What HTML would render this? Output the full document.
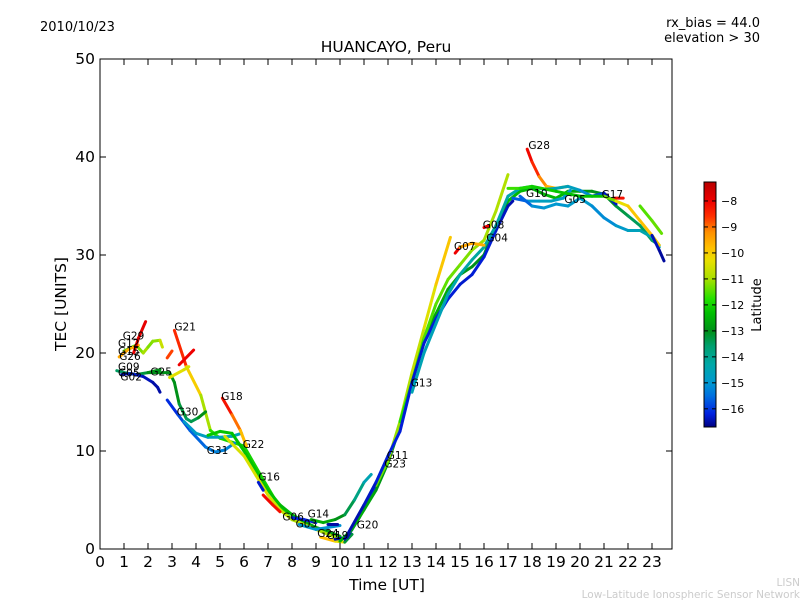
<!DOCTYPE html>
<html><head><meta charset="utf-8"><style>
body{margin:0;background:#fff}
svg text{font-family:"DejaVu Sans","Liberation Sans",sans-serif}
</style></head><body>
<svg id="c" width="800" height="600" xmlns="http://www.w3.org/2000/svg">
<defs>
<linearGradient id="cbg" x1="0" y1="1" x2="0" y2="0"></linearGradient>
<clipPath id="clip"><rect x="100" y="59" width="572" height="490"/></clipPath>
</defs>
<rect x="0" y="0" width="800" height="600" fill="#fff"/>
<text x="40" y="31" font-size="13">2010/10/23</text>
<text x="760" y="27" font-size="13" text-anchor="end">rx_bias = 44.0</text>
<text x="760" y="42" font-size="13" text-anchor="end">elevation &gt; 30</text>
<text x="386" y="52" font-size="15.5" text-anchor="middle">HUANCAYO, Peru</text>
<g id="tracks" clip-path="url(#clip)"></g>
<g id="labels"></g>
<rect x="100" y="59" width="572" height="490" fill="none" stroke="#000" stroke-width="1"/>
<g id="axes"></g>
<text x="387" y="590" font-size="15.5" text-anchor="middle">Time [UT]</text>
<text x="66" y="304" font-size="15.5" text-anchor="middle" transform="rotate(-90 66 304)">TEC [UNITS]</text>
<rect x="704" y="182" width="12" height="245" fill="url(#cbg)" stroke="#000" stroke-width="1"/>
<g id="cbticks"></g>
<text x="761" y="305" font-size="13" text-anchor="middle" transform="rotate(-90 761 305)">Latitude</text>
<text x="800" y="586" font-size="10.5" fill="#ccc" text-anchor="end">LISN</text>
<text x="800" y="598" font-size="10.5" fill="#ccc" text-anchor="end">Low-Latitude Ionospheric Sensor Network</text>
</svg>
<script>
const xTicks=[0,1,2,3,4,5,6,7,8,9,10,11,12,13,14,15,16,17,18,19,20,21,22,23];
const yTicks=[0,10,20,30,40,50];
const cbTicks=[-8,-9,-10,-11,-12,-13,-14,-15,-16];
const latMin=-16.7, latMax=-7.27;
const trackNames=["G21","G29","G12","G12b","G26","G02","G25","G25y","G21r","G21r2","G30","G31","G18","G22","G22y","G16r","G16","G06","G03","G14","G14b","G24","G20","G13","G07","G07b","G13b","G10","G28","G17","G05","G04","G23y","G23g","Gend","G08","G07r","G07o"];
const trackT=[
[3.1,3.6,4.2,4.6,5.0,6.0,6.7,7.5,8.0],
[1.0,1.5,1.8,2.0,2.2,2.5,2.6],
[0.8,1.2,1.6],
[1.4,1.6,1.9],
[0.7,1.0,1.5,2.0,2.5],
[0.9,1.3,1.8,2.2,2.4,2.5],
[2.0,2.5,2.9,3.1,3.3,3.6,3.8,4.1,4.4],
[2.9,3.5,3.7],
[2.8,3.0],
[3.3,3.9],
[2.8,3.25,3.75,4.4,4.8,5.2,5.6],
[3.5,4.0,4.5,5.0,5.5,5.9],
[5.1,5.5,5.85,6.1],
[4.5,5.0,5.5,6.0,6.5,7.0,7.5,8.0,8.5,9.0,9.5,10.0],
[5.2,6.0,6.5,7.0,7.5,8.0,9.0,10.0],
[6.8,7.2,7.5],
[6.6,6.8],
[8.0,8.5,9.0],
[8.3,9.0,9.5,10.0],
[8.8,9.3,9.8,10.2,10.6,11.0,11.3],
[9.5,9.9],
[9.2,9.8,10.2,10.5],
[9.8,10.3,10.8,11.3,11.8],
[10.0,10.5,11.0,11.5,12.0,12.5,13.0,13.5,14.0,14.5,15.0,15.5,16.0,16.5,17.0,17.5,18.0,18.5,19.0,19.5,20.0,20.5,21.0,21.5,22.0,22.5,23.0,23.3],
[11.5,12.0,12.5,13.0,13.5,14.0,14.6],
[12.5,13.0,13.5,14.0,14.5,15.0,15.5,16.0,16.5,17.0],
[10.2,11.0,11.5,12.0,12.5,13.0,13.5,14.0,14.5,15.0,15.5,16.0,16.5,17.0,17.2],
[17.2,17.8,18.3,18.8,19.3,19.6],
[17.8,18.0,18.3,18.6,19.0,19.5],
[21.4,21.8],
[17.5,18.0,18.5,19.0,19.5,20.0,20.5,21.0,21.5,22.0,22.5,23.0,23.3],
[13.0,13.5,14.0,14.5,15.0,15.5,16.0,16.5,17.0,17.5,18.0,18.5,19.0,19.5,20.0,20.5,21.0,21.5],
[17.0,17.5,18.0,19.0,20.0,21.0,21.5,22.0,22.5,23.0,23.3],
[22.5,23.0,23.4],
[23.0,23.3,23.5],
[16.0,16.2],
[14.8,15.0],
[15.0,15.5,16.0]];
const trackV=[
[22.3,18.6,15.7,12.1,11.3,10.5,7.5,4.2,3.0],
[20.2,20.8,20.0,20.6,21.2,21.3,20.6],
[19.6,20.4,20.8],
[20.0,21.5,23.2],
[18.2,18.0,17.8,18.0,18.3],
[17.8,17.9,17.6,17.0,16.5,16.0],
[18.0,18.0,18.0,17.0,14.8,13.3,13.0,13.4,14.0],
[17.5,18.3,18.6],
[19.5,20.2],
[18.8,20.3],
[15.2,13.7,12.1,10.4,9.9,10.1,10.8],
[13.0,11.8,11.4,11.4,11.5,11.8],
[15.4,13.7,12.1,10.5],
[11.6,12.0,11.8,10.0,8.0,6.0,4.5,3.5,2.8,2.2,1.8,1.3],
[11.5,9.5,7.5,5.5,4.0,3.0,2.0,1.0],
[5.5,4.5,3.8],
[6.8,6.0],
[3.2,3.0,2.7],
[2.5,2.0,2.2,2.4],
[3.0,2.7,3.0,3.5,5.0,6.8,7.6],
[2.5,2.5],
[1.2,0.8,0.7,1.5],
[1.0,1.2,3.2,5.5,8.0],
[0.8,2.0,4.0,6.0,8.8,12.5,17.5,21.5,24.0,26.5,28.0,28.8,30.0,33.0,35.5,36.5,36.8,36.2,35.8,36.5,36.5,36.5,36.2,35.0,34.0,33.0,31.5,31.0],
[6.5,9.0,13.0,18.0,22.5,27.0,31.8],
[13.0,17.0,21.5,25.0,27.5,29.0,30.5,31.5,34.5,38.2],
[1.0,4.5,6.8,9.5,12.0,17.0,21.0,23.5,25.5,27.0,28.0,29.8,32.5,35.0,35.5],
[35.8,35.5,35.5,35.5,35.8,36.6],
[40.8,39.5,38.0,37.0,36.8,37.0],
[35.8,35.8],
[36.0,35.0,34.8,35.2,35.0,35.8,35.0,33.8,33.0,32.5,32.5,31.8,30.8],
[16.0,20.0,23.0,26.0,28.0,29.5,30.8,33.0,36.0,36.8,37.0,36.7,36.8,37.0,36.6,36.0,36.3,35.2],
[36.8,36.8,37.0,36.5,36.0,36.0,35.5,35.0,33.5,32.0,31.0],
[35.0,33.5,32.2],
[32.0,30.5,29.4],
[32.8,33.0],
[30.2,30.8],
[30.8,31.2,31.0]];
const trackLat=[
[-7.5,-9.5,-10.5,-11.5,-12,-12,-12,-12,-12],
[-11.5,-11.5,-11,-11,-11.5,-10.8,-10.5],
[-9.5,-9.5,-9.8],
[-8,-8,-7.8],
[-13.5,-13.5,-13.5,-13,-13],
[-16.5,-16.3,-16.3,-16.5,-16.5,-16.5],
[-13,-13,-13,-13,-13,-13.5,-13.5,-13.2,-12.8],
[-10.2,-10.5,-10.5],
[-8.8,-8.6],
[-8,-8],
[-16.2,-16,-15.7,-15.5,-15.3,-15.3,-15.2],
[-15,-14.8,-14.7,-14.6,-14.6,-14.5],
[-8,-8.5,-9.5,-10],
[-12.2,-12.2,-12.3,-12.3,-12.2,-12.2,-12.3,-12.5,-12.6,-12.7,-12.7,-12.8],
[-10.5,-10.5,-10.4,-10.5,-10.6,-10.8,-11,-11],
[-8,-8.2,-8.2],
[-16.3,-16.3],
[-16.2,-16.2,-16.2],
[-15,-15,-15.1,-15.1],
[-12.5,-12.5,-12.8,-13.2,-13.5,-14.2,-14.8],
[-16.5,-16.5],
[-9.5,-10,-10.5,-16],
[-16.5,-16.5,-16.4,-16.2,-16],
[-12.5,-12.5,-12.6,-12.8,-13,-13,-13,-12.8,-12.7,-12.6,-12.8,-13,-13,-12.7,-12.5,-12.3,-12.5,-12.5,-12.4,-12.5,-12.8,-13,-13,-13.2,-13.4,-13.5,-13.5,-13.5],
[-11.5,-11.2,-11,-10.8,-10.6,-10.2,-9.6],
[-11.8,-11.8,-11.6,-11.5,-11.4,-11.3,-11.2,-11,-11,-10.8],
[-16.5,-16.4,-16.3,-16.2,-16.2,-16.3,-16.3,-16.2,-16.2,-16.3,-16.3,-16.2,-16.3,-16.4,-16.5],
[-16.3,-15,-14.8,-14.6,-14.8,-15],
[-8,-8.2,-8.8,-9.5,-9.8,-10],
[-8.2,-8.2],
[-16,-15.2,-15,-15,-15,-14.8,-15,-15.3,-15,-14.8,-14.5,-14.3,-14.3],
[-14.5,-14.5,-14.6,-14.5,-14.3,-14.2,-14.2,-14.2,-14.3,-14.5,-14.6,-14.5,-14.5,-14.6,-14.8,-15.5,-16.2,-16.5],
[-11.5,-11.8,-12,-12.2,-12.3,-12.2,-10.5,-10,-9.8,-9.8,-10],
[-11.5,-11.5,-11.3],
[-16.3,-16.5,-16.6],
[-8,-8],
[-8,-8],
[-9.4,-9.5,-9.6]];
const labelNames=["G29","G12","G15","G26","G09","G05","G02","G25","G21","G30","G18","G31","G22","G16","G06","G03","G14","G24","G19","G20","G11","G23","G13","G07","G08","G04","G28","G10","G05","G17"];
const labelT=[0.95,0.75,0.75,0.8,0.75,0.75,0.85,2.1,3.1,3.2,5.05,4.45,5.95,6.6,7.6,8.15,8.65,9.05,9.45,10.7,11.95,11.85,12.95,14.75,15.95,16.1,17.85,17.75,19.35,20.9];
const labelV=[21.4,20.6,19.8,19.3,18.2,17.6,17.2,17.7,22.3,13.6,15.2,9.7,10.3,7.0,2.9,2.2,3.2,1.2,1.0,2.1,9.2,8.3,16.6,30.5,32.7,31.4,40.8,35.9,35.3,35.8];
const x=t=>100+24*t, y=v=>549-9.8*v;
const stops=[[-16.7,"#000080"],[-16.2,"#0020e0"],[-15.5,"#0070e0"],[-15,"#0098d0"],[-14.3,"#00a8a8"],[-13.6,"#00a070"],[-13,"#009018"],[-12.3,"#00c000"],[-11.8,"#20e000"],[-11,"#a8e000"],[-10.3,"#e8e000"],[-9.8,"#ffc000"],[-9.2,"#ff9000"],[-8.6,"#ff3000"],[-8,"#ee0000"],[-7.27,"#b80000"]];
function hex(h){return [1,3,5].map(i=>parseInt(h.substr(i,2),16));}
function col(l){l=Math.max(latMin,Math.min(latMax,l));for(let i=1;i<stops.length;i++){if(l<=stops[i][0]){const a=stops[i-1],b=stops[i];const f=(l-a[0])/(b[0]-a[0]);const A=hex(a[1]),B=hex(b[1]);return "rgb("+A.map((v,k)=>Math.round(v+(B[k]-v)*f)).join(",")+")";}}return stops[stops.length-1][1];}
const NS="http://www.w3.org/2000/svg";
function mk(tag,attrs,parent){const e=document.createElementNS(NS,tag);for(const k in attrs)e.setAttribute(k,attrs[k]);parent.appendChild(e);return e;}
const g=document.getElementById("tracks");
trackT.forEach((ts,i)=>{
  const tg=mk("g",{},g);
  
  
  for(let j=0;j<ts.length-1;j++){
    const ln=mk("line",{x1:x(ts[j]),y1:y(trackV[i][j]),x2:x(ts[j+1]),y2:y(trackV[i][j+1]),stroke:col((trackLat[i][j]+trackLat[i][j+1])/2),"stroke-width":3,"stroke-linecap":"round"},tg);
    
    
  }
});
const lg=document.getElementById("labels");
labelNames.forEach((n,i)=>{
  const t=mk("text",{x:x(labelT[i]),y:y(labelV[i]),"font-size":10.5},lg);
  t.textContent=n;
  
  
});
const ax=document.getElementById("axes");
xTicks.forEach(v=>{
  const X=x(v);
  mk("line",{x1:X,y1:549,x2:X,y2:543,stroke:"#000"},ax);
  mk("line",{x1:X,y1:59,x2:X,y2:65,stroke:"#000"},ax);
  const t=mk("text",{x:X,y:567,"font-size":15.5,"text-anchor":"middle"},ax);
  t.textContent=v;
  
  
});
yTicks.forEach(v=>{
  const Y=y(v);
  mk("line",{x1:100,y1:Y,x2:106,y2:Y,stroke:"#000"},ax);
  mk("line",{x1:672,y1:Y,x2:666,y2:Y,stroke:"#000"},ax);
  const t=mk("text",{x:95,y:Y+5,"font-size":15.5,"text-anchor":"end"},ax);
  t.textContent=v;
  
  
});
const grad=document.getElementById("cbg");
stops.forEach(s=>{mk("stop",{offset:((s[0]-latMin)/(latMax-latMin)),"stop-color":s[1]},grad);});
const cb=document.getElementById("cbticks");
const cy=l=>427-245*(l-latMin)/(latMax-latMin);
cbTicks.forEach(v=>{
  const Y=cy(v);
  mk("line",{x1:704,y1:Y,x2:708,y2:Y,stroke:"#000"},cb);
  mk("line",{x1:716,y1:Y,x2:712,y2:Y,stroke:"#000"},cb);
  const t=mk("text",{x:721,y:Y+4,"font-size":11},cb);
  t.textContent="\u2212"+Math.abs(v);
  
  
});
</script>
</body></html>
